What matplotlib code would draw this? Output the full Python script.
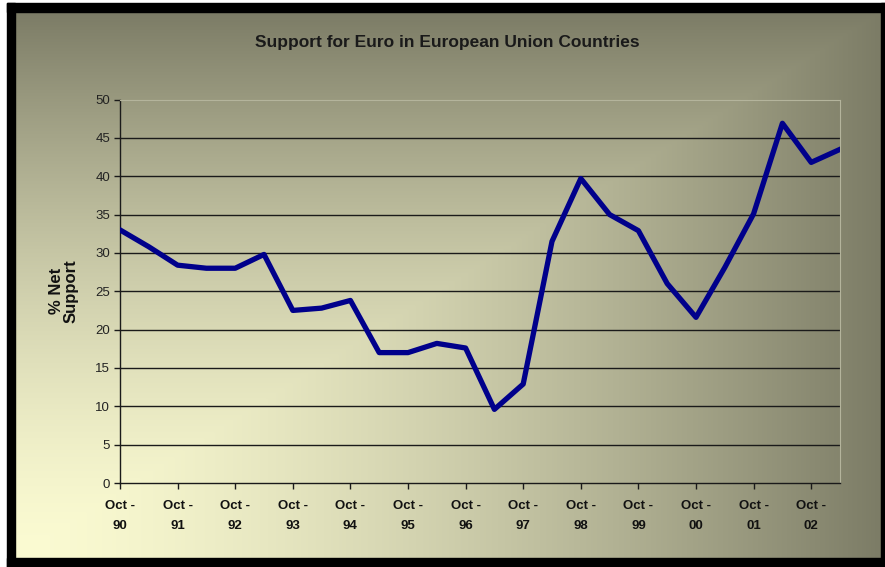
import numpy as np
import matplotlib
matplotlib.use('Agg')
import matplotlib.pyplot as plt
from matplotlib.patches import Rectangle

plt.rcParams['font.family'] = ['Liberation Sans', 'DejaVu Sans']

# semi-annual survey waves, Oct-90 .. Apr-03
periods = ['Oct-90', 'Apr-91', 'Oct-91', 'Apr-92', 'Oct-92', 'Apr-93', 'Oct-93', 'Apr-94',
           'Oct-94', 'Apr-95', 'Oct-95', 'Apr-96', 'Oct-96', 'Apr-97', 'Oct-97', 'Apr-98',
           'Oct-98', 'Apr-99', 'Oct-99', 'Apr-00', 'Oct-00', 'Apr-01', 'Oct-01', 'Apr-02',
           'Oct-02', 'Apr-03']
net_support = [33, 30.8, 28.4, 28, 28, 29.8, 22.5, 22.8, 23.8, 17, 17, 18.2, 17.6,
               9.6, 12.9, 31.5, 39.7, 35, 32.9, 26, 21.6, 28.1, 35.1, 46.9, 41.8, 43.5]
yticks = list(range(0, 55, 5))

W, H = 885, 567
fig = plt.figure(figsize=(W / 100, H / 100), dpi=100)
fig.patch.set_facecolor('white')

# background panel, rectangular gradient from the bottom-left corner
px0, py0, px1, py1 = 15, 12, 881, 558
bg = fig.add_axes([px0 / W, 1 - py1 / H, (px1 - px0) / W, (py1 - py0) / H])
nx, ny = 400, 260
gx = np.linspace(0, 1, nx)[None, :]
gy = np.linspace(1, 0, ny)[:, None]
t = np.maximum(gx, gy) ** 1.5
light = np.array([251, 251, 210]) / 255
dark = np.array([124, 124, 102]) / 255
img = light[None, None, :] + (dark - light)[None, None, :] * t[:, :, None]
bg.imshow(img, aspect='auto', extent=[0, 1, 0, 1], interpolation='bilinear')
bg.set_axis_off()

# black frame
for (x, y, w, h) in [(7, 3, 8, 564), (7, 3, 878, 9), (881, 3, 4, 564), (7, 558, 878, 9)]:
    fig.patches.append(Rectangle((x / W, 1 - (y + h) / H), w / W, h / H,
                                 transform=fig.transFigure, color='black', zorder=5))

ax = fig.add_axes([120 / W, 1 - 483 / H, 720 / W, 383.5 / H])
ax.set_facecolor('none')
x = np.arange(len(periods))
ax.plot(x, net_support, color='#00008b', linewidth=3.8, solid_joinstyle='round', zorder=3)

ax.set_xlim(0, len(periods) - 1)
ax.set_ylim(0, 50)
ax.set_yticks(yticks)
ax.set_yticklabels([str(v) for v in yticks], fontsize=9.5, color='#222222')
for v in yticks[1:-1]:
    ax.axhline(v, color='#1a1a1a', linewidth=1.0, zorder=1)

xt = x[::2][:13]
ax.set_xticks(xt)
ax.set_xticklabels([p.split('-')[0] + ' -\n' + p.split('-')[1] for p in periods[::2][:13]],
                   fontsize=9.5, fontweight='bold', color='#111111', linespacing=1.9)

for s in ['top', 'right']:
    ax.spines[s].set_color('#b4b49c')
    ax.spines[s].set_linewidth(0.8)
for s in ['left', 'bottom']:
    ax.spines[s].set_color('#1a1a1a')
    ax.spines[s].set_linewidth(1.0)
ax.tick_params(axis='both', direction='out', length=4, width=1.0, color='#1a1a1a')
ax.tick_params(axis='x', pad=8)
ax.tick_params(axis='y', pad=3)

ax.set_ylabel('% Net\nSupport', fontsize=12, fontweight='bold', color='#111111',
              labelpad=12, linespacing=1.0)

fig.text(447 / W, 1 - 43 / H, 'Support for Euro in European Union Countries',
         ha='center', va='center', fontsize=12.5, fontweight='bold', color='#1a1a1a')

fig.savefig('out.png', dpi=100)
